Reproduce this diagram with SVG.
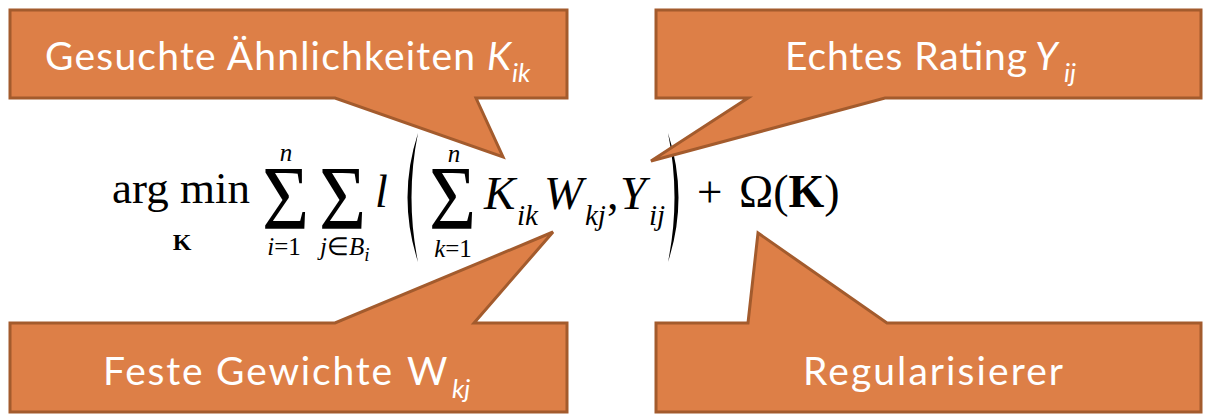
<svg xmlns="http://www.w3.org/2000/svg" width="1211" height="419" viewBox="0 0 1211 419">
<style>
.co{fill:#DD7F47;stroke:#A35B2D;stroke-width:3;stroke-linejoin:miter}
.lb{font-family:Lato,"Open Sans",sans-serif;fill:#fff;font-size:39px}
.sb{font-family:Lato,"Open Sans",sans-serif;fill:#fff;font-size:26px;font-style:italic}
.it{font-style:italic}
.m{font-family:"Liberation Serif","Times New Roman",serif;fill:#000}
.sg{font-size:90px}
.lim{font-size:25px}
.sub{font-size:29px;font-style:italic}
</style>
<rect width="1211" height="419" fill="#fff"/>
<g id="formula" class="m">
<text x="112" y="203" font-size="45">arg</text>
<text x="180" y="203" font-size="45">min</text>
<text x="182" y="250" font-size="24" font-weight="bold" text-anchor="middle">K</text>
<text class="sg" transform="translate(262,229) scale(0.9,1)">Σ</text>
<text x="286" y="161" class="lim" font-style="italic" text-anchor="middle">n</text>
<text x="284" y="255" class="lim" text-anchor="middle"><tspan font-style="italic">i</tspan>=1</text>
<text class="sg" transform="translate(319,229) scale(0.9,1)">Σ</text>
<text x="320" y="255" class="lim"><tspan font-style="italic">j</tspan>∈<tspan font-style="italic">B</tspan><tspan font-size="19" font-style="italic" dy="6">i</tspan></text>
<text x="375" y="207" font-size="46" font-style="italic">l</text>
<path d="M418,133 Q397,197.5 418,262 Q405,197.5 418,133 Z"/>
<text class="sg" transform="translate(429,229) scale(0.9,1)">Σ</text>
<text x="454" y="162" class="lim" font-style="italic" text-anchor="middle">n</text>
<text x="453" y="257" class="lim" text-anchor="middle"><tspan font-style="italic">k</tspan>=1</text>
<text x="484" y="209" font-size="47" font-style="italic">K</text>
<text x="517" y="225" class="sub">ik</text>
<text x="544" y="209" font-size="47" font-style="italic">W</text>
<text x="585" y="225" class="sub">kj</text>
<text x="607" y="209" font-size="46">,</text>
<text x="620" y="209" font-size="47" font-style="italic">Y</text>
<text x="649" y="225" class="sub">ij</text>
<path d="M668,133 Q689,197.5 668,262 Q681,197.5 668,133 Z"/>
<text x="697" y="207" font-size="45">+</text>
<text x="739" y="207" font-size="46">Ω(<tspan font-weight="bold">K</tspan>)</text>
</g>
<g id="callout-gesucht">
<path class="co" d="M10,10 H567 V98 H476 L503,157 L335,98 H10 Z"/>
<text class="lb" x="45" y="70" textLength="430">Gesuchte Ähnlichkeiten</text>
<text class="lb it" x="487" y="70">K</text>
<text class="sb" x="512" y="82">ik</text>
</g>
<g id="callout-rating">
<path class="co" d="M656,10 H1201 V98 H885 L651,161 L748,98 H656 Z"/>
<text class="lb" x="785" y="70" textLength="242">Echtes Rating</text>
<text class="lb it" x="1035" y="70">Y</text>
<text class="sb" x="1064" y="82">ij</text>
</g>
<g id="callout-gewichte">
<path class="co" d="M10,323 H335 L553,232 L474,323 H567 V412 H10 Z"/>
<text class="lb" x="103" y="385" textLength="289">Feste Gewichte</text>
<text class="lb" x="407" y="385">W</text>
<text class="sb" x="452" y="398">kj</text>
</g>
<g id="callout-reg">
<path class="co" d="M656,323 H748 L758,233 L887,323 H1201 V412 H656 Z"/>
<text class="lb" x="803" y="385" textLength="260">Regularisierer</text>
</g>
<g id="connectors"/>
</svg>
